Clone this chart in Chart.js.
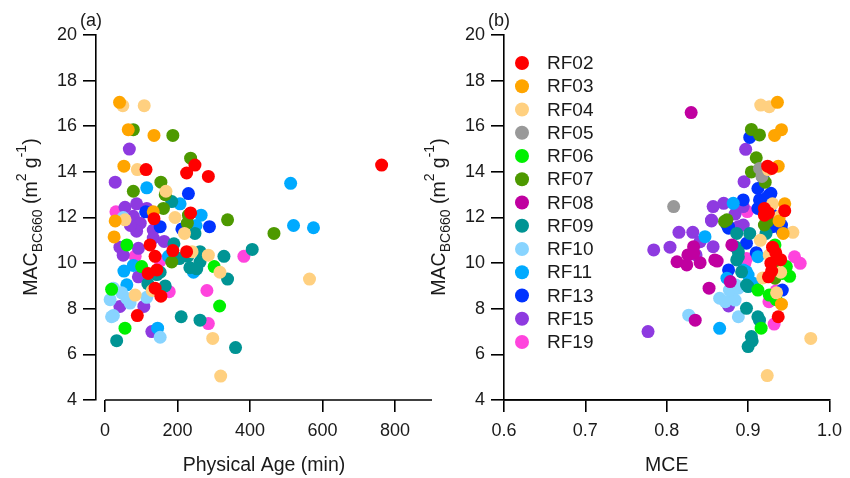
<!DOCTYPE html>
<html>
<head>
<meta charset="utf-8">
<script src="https://cdn.jsdelivr.net/npm/chart.js@4.4.1/dist/chart.umd.min.js"></script>
<style>
  body { margin: 0; background: #fff; }
  #wrap { position: relative; width: 850px; height: 478px; }
  canvas { position: absolute; top: 0; }
  #age { left: 0; }
  #mce { left: 410px; }
</style>
</head>
<body>
<div id="wrap">
  <canvas id="age" width="440" height="478"></canvas>
  <canvas id="mce" width="440" height="478"></canvas>
</div>
<script>
//FLIGHTS AND COLOURS
const flights = ['RF02', 'RF03', 'RF04', 'RF05', 'RF06', 'RF07', 'RF08', 'RF09', 'RF10', 'RF11', 'RF13', 'RF15', 'RF19']
const flightColors = ['#ff0000', '#ffa500', '#ffd080', '#999999', '#00f000', '#4d9900', '#c000a0',
  '#009494', '#88d4ff', '#00aaff', '#0033ff', '#8e3ae0', '#ff44dd']

//AXIS TICKS
const macTicks = [4, 6, 8, 10, 12, 14, 16, 18, 20]
const ageTicks = [0, 200, 400, 600, 800]
const mceTicks = [0.6, 0.7, 0.8, 0.9, 1.0]

//PHYSICAL AGE (min) vs MAC, one list of [age, mac] per flight (no age for RF05 / RF08)
const ageRF02 = [[763, 14.3], [113, 14.1], [225, 13.95], [248, 14.3], [285, 13.8], [236, 12.2], [135, 11.95], [124, 10.8],
  [138, 10.3], [187, 10.55], [225, 10.5], [143, 9.7], [119, 9.55], [138, 8.9], [154, 8.55], [89, 7.7]]
const ageRF03 = [[40, 17.05], [64, 15.85], [135, 15.6], [52, 14.25], [28, 11.85], [25, 11.15], [133, 12.25]]
const ageRF04 = [[49, 16.9], [108, 16.9], [89, 14.1], [168, 13.15], [193, 12.0], [219, 11.3], [55, 11.9], [285, 10.35],
  [317, 9.6], [564, 9.3], [297, 6.7], [319, 5.05], [83, 8.6], [240, 10.5], [130, 8.8]]
const ageRF05 = []
const ageRF06 = [[60, 10.8], [101, 9.85], [301, 9.85], [316, 8.12], [55, 7.15], [18, 8.85]]
const ageRF07 = [[78, 15.85], [187, 15.6], [236, 14.6], [154, 13.55], [78, 13.15], [166, 13.0], [161, 12.4], [230, 12.1],
  [338, 11.9], [466, 11.3], [227, 11.75], [184, 10.05]]
const ageRF08 = []
const ageRF09 = [[32, 6.6], [210, 7.65], [262, 7.5], [360, 6.3], [406, 10.6], [328, 10.3], [338, 9.3], [184, 12.7],
  [248, 11.3], [190, 10.85], [205, 10.2], [228, 10.3], [262, 10.5], [262, 10.05], [234, 9.8], [143, 9.5], [118, 9.1],
  [166, 9.0], [152, 9.6], [253, 9.75]]
const ageRF10 = [[23, 8.9], [14, 8.4], [23, 7.7], [60, 8.45], [69, 8.25], [115, 8.5], [152, 6.75], [46, 8.7], [18, 7.65], [50, 12.0]]
const ageRF11 = [[512, 13.5], [520, 11.65], [575, 11.55], [115, 13.3], [207, 12.6], [265, 12.1], [251, 11.65], [175, 10.3],
  [244, 9.6], [52, 9.65], [60, 9.05], [78, 9.9], [145, 7.15]]
const ageRF13 = [[230, 13.05], [212, 11.5], [288, 11.6], [152, 11.6], [112, 12.25]]
const ageRF15 = [[67, 15.0], [28, 13.55], [55, 12.45], [87, 12.6], [115, 12.4], [78, 12.05], [97, 11.75], [87, 11.4],
  [133, 11.45], [133, 11.1], [163, 10.95], [41, 10.7], [92, 10.65], [50, 10.35], [92, 9.4], [41, 8.1], [107, 8.1],
  [129, 7.0], [70, 11.65]]
const ageRF19 = [[30, 12.25], [83, 10.3], [152, 10.1], [177, 8.75], [281, 8.8], [285, 7.35], [383, 10.3]]

//MCE vs MAC, one list of [mce, mac] per flight
const mceRF02 = [[0.924, 14.25], [0.929, 14.15], [0.945, 12.3], [0.92, 12.1], [0.93, 10.7], [0.934, 10.45], [0.929, 9.65],
  [0.928, 10.0], [0.937, 7.65], [0.925, 9.4], [0.925, 12.2], [0.94, 10.15], [0.92, 12.4]]
const mceRF03 = [[0.936, 17.05], [0.941, 15.85], [0.9325, 15.6], [0.937, 14.25], [0.945, 12.6], [0.943, 11.3], [0.941, 8.2], [0.938, 11.85]]
const mceRF04 = [[0.9155, 16.93], [0.926, 16.86], [0.925, 14.1], [0.939, 12.05], [0.955, 11.35], [0.926, 10.35], [0.918, 9.35],
  [0.977, 6.7], [0.9235, 5.07], [0.93, 12.6], [0.935, 8.7], [0.94, 9.6], [0.915, 11.0]]
const mceRF05 = [[0.8085, 12.48], [0.914, 14.15], [0.917, 13.8]]
const mceRF06 = [[0.933, 10.8], [0.947, 9.85], [0.942, 9.55], [0.951, 9.42], [0.912, 8.82], [0.9345, 8.4], [0.916, 7.15], [0.926, 8.6]]
const mceRF07 = [[0.904, 15.86], [0.914, 15.62], [0.91, 14.62], [0.904, 14.0], [0.921, 13.55], [0.874, 11.9], [0.92, 11.67],
  [0.933, 10.06], [0.933, 9.34], [0.924, 11.83], [0.871, 11.83], [0.93, 10.4]]
const mceRF08 = [[0.83, 16.6], [0.8126, 10.06], [0.8246, 9.92], [0.826, 10.36], [0.841, 10.02], [0.833, 10.72], [0.862, 10.09],
  [0.852, 8.9], [0.835, 7.5], [0.833, 10.43], [0.878, 9.19], [0.859, 10.14], [0.88, 10.8]]
const mceRF09 = [[0.884, 10.72], [0.888, 10.28], [0.892, 9.62], [0.9, 8.97], [0.898, 8.02], [0.912, 7.65], [0.9, 6.34],
  [0.905, 6.59], [0.922, 11.3], [0.902, 11.3], [0.888, 10.5], [0.886, 10.14], [0.898, 9.04], [0.914, 7.5], [0.904, 6.78], [0.886, 11.3]]
const mceRF10 = [[0.888, 8.9], [0.88, 8.75], [0.865, 8.46], [0.872, 8.31], [0.884, 8.38], [0.827, 7.72], [0.888, 7.65], [0.877, 8.82], [0.885, 9.04]]
const mceRF11 = [[0.8817, 12.62], [0.847, 11.16], [0.865, 7.14], [0.898, 9.62], [0.902, 9.19], [0.874, 9.34], [0.912, 10.28],
  [0.906, 9.12], [0.894, 9.7], [0.9, 9.48]]
const mceRF13 = [[0.902, 15.51], [0.918, 13.76], [0.912, 13.27], [0.926, 12.99], [0.914, 12.77], [0.894, 12.77], [0.928, 12.18],
  [0.876, 11.6], [0.928, 13.06], [0.922, 12.84], [0.912, 12.4], [0.926, 12.26], [0.874, 11.67], [0.93, 11.74], [0.941, 11.67],
  [0.876, 11.53], [0.93, 11.6], [0.941, 11.45], [0.898, 10.87], [0.91, 10.46], [0.876, 9.7], [0.942, 8.82]]
const mceRF15 = [[0.897, 14.99], [0.895, 13.57], [0.857, 12.48], [0.87, 12.62], [0.855, 11.89], [0.884, 12.15], [0.894, 12.48],
  [0.815, 11.35], [0.832, 11.35], [0.841, 10.94], [0.784, 10.58], [0.804, 10.7], [0.857, 10.72], [0.836, 10.36], [0.876, 8.12],
  [0.777, 7.0], [0.855, 11.85], [0.888, 11.6], [0.894, 11.67]]
const mceRF19 = [[0.898, 10.2], [0.957, 10.28], [0.964, 9.99], [0.9345, 8.79], [0.9256, 8.31], [0.932, 7.33], [0.899, 12.26], [0.896, 10.0]]

const ageByFlight = [ageRF02, ageRF03, ageRF04, ageRF05, ageRF06, ageRF07, ageRF08, ageRF09, ageRF10, ageRF11, ageRF13, ageRF15, ageRF19]
const mceByFlight = [mceRF02, mceRF03, mceRF04, mceRF05, mceRF06, mceRF07, mceRF08, mceRF09, mceRF10, mceRF11, mceRF13, mceRF15, mceRF19]

const FONT = "'Liberation Sans', Arial, sans-serif"
const AXIS_W = 1.6

//BUILD SCATTER DATASETS
function buildDatasets(pointLists) {
  return flights.map((name, i) => ({
    label: name,
    data: pointLists[i].map(([x, y]) => ({ x: x, y: y })),
    backgroundColor: flightColors[i],
    borderWidth: 0,
    pointRadius: 6.5,
    pointHoverRadius: 6.5
  }))
}

//Y TITLE WITH SUB/SUPERSCRIPTS, rotated
function drawMacTitle(ctx, x, yCenter) {
  const parts = [
    { t: 'MAC', size: 19.5, dy: 0 },
    { t: 'BC660', size: 14, dy: 5 },
    { t: ' (m', size: 19.5, dy: 0 },
    { t: '2', size: 14, dy: -11 },
    { t: ' g', size: 19.5, dy: 0 },
    { t: '-1', size: 14, dy: -11 },
    { t: ')', size: 19.5, dy: 0 }
  ]
  ctx.save()
  let total = 0
  parts.forEach(p => {
    ctx.font = p.size + 'px ' + FONT
    p.w = ctx.measureText(p.t).width
    total += p.w
  })
  ctx.translate(x, yCenter)
  ctx.rotate(-Math.PI / 2)
  ctx.fillStyle = '#1a1a1a'
  ctx.textBaseline = 'alphabetic'
  let pos = -total / 2
  parts.forEach(p => {
    ctx.font = p.size + 'px ' + FONT
    ctx.fillText(p.t, pos, p.dy)
    pos += p.w
  })
  ctx.restore()
}

//EXTRA DRAWING: panel letter, y title, detached x axis line, legend
const panelDecor = {
  id: 'panelDecor',
  afterDraw(chart, args, opts) {
    const ctx = chart.ctx
    const area = chart.chartArea
    const xs = chart.scales.x

    ctx.save()
    ctx.strokeStyle = '#000'
    ctx.lineWidth = AXIS_W
    ctx.beginPath()
    ctx.moveTo(xs.getPixelForValue(opts.lineFrom), area.bottom)
    ctx.lineTo(area.right, area.bottom)
    ctx.stroke()

    ctx.fillStyle = '#1a1a1a'
    ctx.font = '18px ' + FONT
    ctx.textBaseline = 'middle'
    ctx.fillText(opts.letter, area.left - 16, 21)
    ctx.restore()

    drawMacTitle(ctx, area.left - 59, 217)

    if (opts.legend) {
      ctx.save()
      ctx.font = '19px ' + FONT
      ctx.textBaseline = 'middle'
      chart.data.datasets.forEach((ds, i) => {
        const y = 63 + i * 23.25
        ctx.fillStyle = ds.backgroundColor
        ctx.beginPath()
        ctx.arc(area.left + 18, y, 7, 0, Math.PI * 2)
        ctx.fill()
        ctx.fillStyle = '#1a1a1a'
        ctx.fillText(ds.label, area.left + 43, y + 1)
      })
      ctx.restore()
    }
  }
}

//CHART OPTIONS FOR ONE PANEL
function panelOptions(cfg) {
  return {
    responsive: false,
    animation: false,
    events: [],
    layout: { padding: { top: 35, right: cfg.padRight, left: 0, bottom: 0 } },
    plugins: {
      legend: { display: false },
      tooltip: { enabled: false },
      panelDecor: cfg.decor
    },
    scales: {
      x: {
        type: 'linear',
        min: cfg.xMin,
        max: cfg.xMax,
        afterBuildTicks: s => { s.ticks = cfg.xTicks.map(v => ({ value: v })) },
        afterFit: s => { s.height = 78 },
        border: { display: cfg.xBorder, color: '#000', width: AXIS_W },
        grid: { drawOnChartArea: false, drawTicks: true, tickLength: 12, color: '#000', lineWidth: AXIS_W },
        ticks: {
          padding: 8,
          color: '#1a1a1a',
          font: { family: FONT, size: 18 },
          maxRotation: 0,
          callback: cfg.xFormat
        },
        title: {
          display: true,
          text: cfg.xTitle,
          color: '#1a1a1a',
          font: { family: FONT, size: 19.5 },
          padding: { top: 0, bottom: 1 }
        }
      },
      y: {
        type: 'linear',
        min: 4,
        max: 20,
        afterBuildTicks: s => { s.ticks = macTicks.map(v => ({ value: v })) },
        afterFit: s => { s.width = cfg.yWidth },
        border: { display: true, color: '#000', width: AXIS_W },
        grid: { drawOnChartArea: false, drawTicks: true, tickLength: 13, color: '#000', lineWidth: AXIS_W },
        ticks: { padding: 6, color: '#1a1a1a', font: { family: FONT, size: 18 } }
      }
    }
  }
}

//PHYSICAL AGE PANEL
function handleAgeChart() {
  new Chart(document.getElementById('age'), {
    type: 'scatter',
    data: { datasets: buildDatasets(ageByFlight) },
    options: panelOptions({
      padRight: 8, yWidth: 96, xMin: -25, xMax: 902, xTicks: ageTicks, xBorder: false,
      xFormat: v => String(v), xTitle: 'Physical Age (min)',
      decor: { letter: '(a)', lineFrom: 0, legend: false }
    }),
    plugins: [panelDecor]
  })
}

//MCE PANEL
function handleMceChart() {
  new Chart(document.getElementById('mce'), {
    type: 'scatter',
    data: { datasets: buildDatasets(mceByFlight) },
    options: panelOptions({
      padRight: 18, yWidth: 94, xMin: 0.6, xMax: 1.0, xTicks: mceTicks, xBorder: true,
      xFormat: v => Number(v).toFixed(1), xTitle: 'MCE',
      decor: { letter: '(b)', lineFrom: 0.6, legend: true }
    }),
    plugins: [panelDecor]
  })
}

document.addEventListener('DOMContentLoaded', () => {
  handleAgeChart()
  handleMceChart()
})
</script>
</body>
</html>
